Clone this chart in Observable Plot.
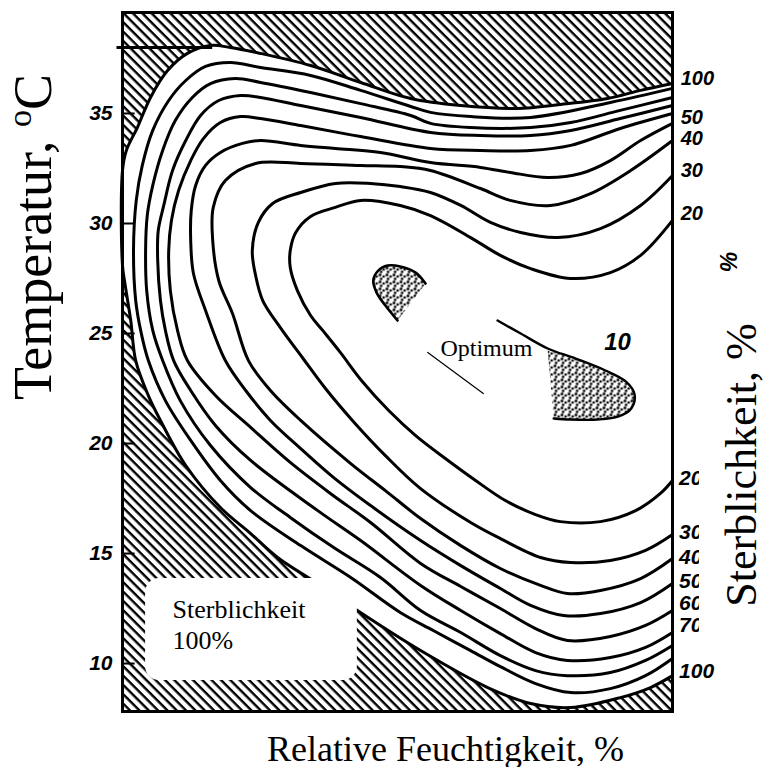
<!DOCTYPE html>
<html><head><meta charset="utf-8">
<script src="https://cdn.jsdelivr.net/npm/d3@7"></script>
<script src="https://cdn.jsdelivr.net/npm/@observablehq/plot@0.6"></script>
<style>body{margin:0;background:#fff}</style>
</head><body><div id="chart"></div>
<script>
// x = relative humidity (0..100 of the frame), y = temperature °C
const c100 = [[100,36.36],[94.2,36.05],[88.2,35.68],[79.6,35.41],[71.8,35.23],[61.5,35.36],[52.4,35.68],[43.3,36.41],[34.2,37.18],[25.1,37.73],[19.6,38.0],[16.0,38.09],[11.8,37.73],[8.2,36.95],[5.1,35.73],[2.7,34.36],[0.7,33.32],[0,32.41],[0,28.09],[0.5,27.18],[1.5,25.59],[2.4,23.77],[4.7,22.18],[6.9,21.05],[11.5,19.0],[17.8,17.09],[23.3,15.91],[28.2,14.82],[36.0,13.55],[42.7,12.41],[54.2,10.59],[66.4,8.91],[74.2,8.18],[81.5,8.0],[90.5,8.45],[96.0,8.91],[100,9.45]];
const c90 = [[100,36.14],[88.7,35.5],[74.2,34.82],[63.3,34.86],[56.0,35.05],[52.4,35.32],[43.3,36.05],[34.2,36.73],[25.1,37.09],[19.6,37.32],[15.1,37.14],[11.5,36.5],[8.4,35.59],[5.5,34.23],[3.6,32.64],[2.5,31.05],[2.0,28.77],[2.4,26.5],[3.3,25.14],[4.7,23.77],[7.8,21.95],[12.4,20.14],[17.8,18.32],[23.3,16.95],[32.4,15.36],[41.5,13.91],[50.5,12.32],[56.5,11.5],[63.3,10.59],[68.7,9.86],[75.1,9.09],[81.5,8.68],[88.7,8.86],[95.1,9.45],[100,10.23]];
const c80 = [[100,35.73],[90.5,35.14],[81.5,34.59],[74.2,34.36],[63.3,34.36],[56.0,34.55],[52.4,34.91],[43.3,35.45],[34.2,35.95],[25.1,36.41],[20.5,36.59],[16.0,36.36],[12.7,35.73],[9.6,34.68],[7.3,33.32],[5.5,31.73],[4.5,30.36],[4.2,28.77],[4.4,26.95],[5.5,25.14],[7.3,23.77],[10.5,21.95],[16.0,19.91],[23.3,18.0],[30.5,16.64],[38.4,15.27],[46.9,13.91],[54.2,12.41],[61.5,11.41],[68.7,10.36],[75.1,9.68],[80.9,9.45],[88.7,9.59],[95.1,10.14],[100,10.82]];
const c70 = [[100,35.36],[90.5,34.77],[81.5,34.23],[74.2,34.0],[65.1,34.0],[56.0,34.14],[43.3,34.82],[32.4,35.36],[25.1,35.73],[21.5,35.82],[17.5,35.59],[14.2,34.91],[11.5,33.77],[9.1,32.41],[7.5,30.82],[6.5,29.68],[6.4,28.32],[6.9,26.5],[7.8,25.14],[9.3,23.77],[12.4,22.41],[16.9,20.82],[23.3,19.23],[35.5,16.95],[43.3,15.59],[54.2,13.55],[61.5,12.41],[68.7,11.36],[75.1,10.5],[80.9,10.14],[88.7,10.27],[95.1,10.73],[100,11.41]];
const c60 = [[100,35.0],[90.5,34.32],[81.5,33.55],[74.2,33.32],[65.1,33.32],[56.0,33.41],[43.3,33.95],[32.4,34.45],[25.1,34.77],[21.5,34.86],[17.8,34.59],[14.7,33.86],[12.4,32.86],[10.2,31.5],[8.9,30.14],[8.4,28.77],[8.7,26.95],[10.0,25.14],[11.8,23.77],[16.9,22.18],[23.3,20.73],[30.5,19.14],[37.8,17.73],[45.1,16.41],[54.2,14.55],[61.5,13.5],[68.7,12.5],[75.1,11.59],[80.9,11.05],[88.7,11.23],[95.1,11.73],[100,12.41]];
const c50 = [[100,34.55],[94.2,33.77],[88.7,32.86],[83.3,32.27],[77.3,32.09],[70.5,32.32],[65.1,32.55],[56.0,32.77],[46.9,33.23],[38.7,33.41],[32.4,33.55],[25.1,33.77],[21.8,33.64],[17.8,33.23],[15.1,32.64],[13.3,31.73],[12.5,30.59],[12.4,29.23],[12.9,27.73],[15.1,26.05],[18.7,23.77],[22.4,22.41],[26.9,21.05],[32.4,19.77],[38.4,18.45],[45.1,17.18],[54.2,15.59],[61.5,14.45],[68.7,13.41],[74.2,12.64],[80.2,12.18],[86.9,12.27],[94.2,12.77],[100,13.64]];
const c40 = [[100,33.77],[92.4,32.41],[85.1,31.36],[77.8,30.82],[70.5,31.05],[65.1,31.59],[56.0,32.41],[50.5,32.59],[43.3,32.64],[32.4,32.73],[24.2,32.73],[18.7,31.95],[16.5,30.73],[16.4,29.23],[17.5,27.41],[20.0,25.91],[22.9,23.77],[26.9,22.41],[32.4,21.05],[41.5,19.09],[47.8,17.86],[54.2,16.59],[61.5,15.36],[68.7,14.32],[76.0,13.55],[80.9,13.18],[86.9,13.32],[94.2,13.86],[100,14.77]];
const c30 = [[100,32.18],[94.2,30.82],[86.9,29.77],[79.1,29.36],[72.4,29.59],[66.9,30.05],[61.5,30.82],[56.0,31.41],[50.5,31.68],[45.1,31.82],[38.7,31.82],[32.4,31.41],[27.3,30.91],[24.7,30.05],[23.6,28.77],[24.2,27.64],[25.5,26.5],[28.7,25.27],[32.7,23.91],[36.9,22.5],[41.8,21.05],[47.8,19.45],[54.2,17.95],[63.3,16.41],[68.7,15.68],[76.0,14.82],[81.5,14.59],[88.7,14.68],[95.1,15.14],[100,15.86]];
const c20 = [[100,30.14],[94.2,28.55],[88.7,27.77],[81.5,27.5],[74.2,27.95],[68.7,28.55],[63.3,29.36],[56.0,30.36],[50.5,30.82],[43.3,31.05],[38.7,30.73],[34.2,30.32],[31.5,29.59],[30.5,28.77],[30.5,28.0],[31.8,26.95],[34.2,25.82],[36.4,25.14],[39.6,24.14],[43.6,22.82],[48.4,21.5],[53.3,20.36],[58.7,19.32],[64.2,18.32],[69.6,17.41],[75.1,16.77],[79.6,16.45],[86.9,16.45],[93.3,16.95],[97.8,17.73],[100,18.32]];

const levels = [100, 90, 80, 70, 60, 50, 40, 30, 20];
const contours = [c100, c90, c80, c70, c60, c50, c40, c30, c20];

// optimum (10 %) patches
const patch1 = [[55.1,27.27],[53.3,27.77],[50.5,28.05],[48.2,28.09],[46.5,27.86],[45.6,27.41],[46.2,26.86],[47.8,26.27],[50.0,25.59]];
const patch2Edge = [[68.2,25.59],[72.4,25.0],[77.3,24.32],[82.4,23.86],[87.8,23.32],[91.5,22.82],[93.1,22.23],[92.5,21.59],[90.2,21.23],[86.4,21.09],[81.5,21.09],[78.4,21.14]];
const patch2Fill = [[77.3,24.23],[82.4,23.86],[87.8,23.32],[91.5,22.82],[93.1,22.23],[92.5,21.59],[90.2,21.23],[86.4,21.09],[81.5,21.09],[78.4,21.14]];
const pointer = [[55.5,24.14],[65.6,22.27]];

const yTicks = [10, 15, 20, 25, 30, 35];
const markerTemp = [38];
const upperLabels = ["100", "50", "40", "30", "20"];
const upperLabelTemp = [36.59, 34.82, 33.86, 32.41, 30.45];
const lowerLabels = ["20", "30", "40", "50", "60", "70", "100"];
const lowerLabelTemp = [18.41, 15.95, 14.82, 13.73, 12.73, 11.73, 9.64];
const boxLines = ["Sterblichkeit", "100%"];
const boxLineTemp = [12.05, 10.68];
const box = [{x1: 4.2, x2: 42.7, y1: 9.23, y2: 13.86}];
const cover = [{x1: 104.9, x2: 130, y1: 10.2, y2: 26.5}];

const rows = levels.flatMap((lv, i) => contours[i].map(([h, t]) => ({lv, h, t})));
const pt = {x: d => d[0], y: d => d[1]};
const upperRows = upperLabels.map((s, i) => ({s, h: 101.5, t: upperLabelTemp[i]}));
const lowerRows = lowerLabels.map((s, i) => ({s, h: 101.2, t: lowerLabelTemp[i]}));
const boxRows = boxLines.map((s, i) => ({s, h: 9.1, t: boxLineTemp[i]}));
const numFont = {fontFamily: "Liberation Sans", fontWeight: "bold", fontStyle: "italic"};

const svg = Plot.plot({
  width: 764, height: 767,
  marginLeft: 122, marginRight: 92, marginTop: 12, marginBottom: 56,
  x: {domain: [0, 100], axis: null},
  y: {domain: [7.82, 39.59]},
  style: {background: "white"},
  marks: [
    Plot.frame({fill: "url(#hatch)", stroke: "none"}),
    Plot.line(c100, {...pt, fill: "white", stroke: "none", curve: "catmull-rom"}),
    Plot.line(rows, {x: "h", y: "t", z: "lv", stroke: "black", strokeWidth: 3, curve: "catmull-rom"}),
    Plot.line(patch1, {...pt, fill: "url(#dots)", stroke: "none", curve: "catmull-rom"}),
    Plot.line(patch2Fill, {...pt, fill: "url(#dots)", stroke: "none", curve: "catmull-rom"}),
    Plot.line(patch1, {...pt, stroke: "black", strokeWidth: 2.6, curve: "catmull-rom"}),
    Plot.line(patch2Edge, {...pt, stroke: "black", strokeWidth: 2.4, curve: "catmull-rom"}),
    Plot.line(pointer, {...pt, stroke: "black", strokeWidth: 1.2}),
    Plot.rect(box, {x1: "x1", x2: "x2", y1: "y1", y2: "y2", fill: "white", rx: 14}),
    Plot.text(boxRows, {x: "h", y: "t", text: "s", textAnchor: "start", lineAnchor: "bottom", fontSize: 26, fontFamily: "Liberation Serif"}),
    Plot.text(["Optimum"], {x: 57.8, y: 24.0, text: d => d, textAnchor: "start", lineAnchor: "bottom", fontSize: 24, fontFamily: "Liberation Serif"}),
    Plot.text(["10"], {x: 90.0, y: 24.59, text: d => d, fontSize: 24, ...numFont}),
    Plot.ruleY(yTicks, {x1: 0, x2: 2.3, stroke: "black", strokeWidth: 2}),
    Plot.ruleY(markerTemp, {x1: -1, x2: 16.4, stroke: "black", strokeWidth: 3}),
    Plot.frame({stroke: "black", strokeWidth: 3}),
    Plot.axisY(yTicks, {tickSize: 0, tickPadding: 10, label: null, fontSize: 21, ...numFont}),
    Plot.text(lowerRows, {x: "h", y: "t", text: "s", textAnchor: "start", fontSize: 21, ...numFont}),
    Plot.rect(cover, {x1: "x1", x2: "x2", y1: "y1", y2: "y2", fill: "white"}),
    Plot.text(upperRows, {x: "h", y: "t", text: "s", textAnchor: "start", fontSize: 20, ...numFont}),
    Plot.text(["%"], {x: 110, y: 28.27, text: d => d, rotate: 90, fontSize: 23, ...numFont}),
    Plot.text(["Relative Feuchtigkeit, %"], {frameAnchor: "bottom", dx: 48, dy: 49, lineAnchor: "bottom", fontSize: 36, fontFamily: "Liberation Serif"}),
    Plot.text(["Temperatur, oC"], {frameAnchor: "left", textAnchor: "middle", dx: -72, dy: -125, rotate: -90, lineAnchor: "bottom", fontSize: 54, fontFamily: "Liberation Serif"}),
    Plot.text(["Sterblichkeit, %"], {frameAnchor: "right", textAnchor: "middle", dx: 83, dy: 103, rotate: -90, lineAnchor: "bottom", fontSize: 44, fontFamily: "Liberation Serif"})
  ]
});

const s = d3.select(svg);
s.insert("defs", ":first-child").html(
  '<pattern id="hatch" patternUnits="userSpaceOnUse" width="6.6" height="6.6" patternTransform="rotate(45)">' +
  '<rect x="0" y="0" width="6.6" height="2.4" fill="black"/></pattern>' +
  '<pattern id="dots" patternUnits="userSpaceOnUse" width="7" height="7">' +
  '<circle cx="1.5" cy="1.5" r="1.4" fill="black"/><circle cx="5.2" cy="3.0" r="1.3" fill="black"/>' +
  '<circle cx="2.6" cy="5.4" r="1.3" fill="black"/></pattern>'
);
s.selectAll("text").filter(function() { return this.textContent === "Temperatur, oC"; }).each(function() {
  const t = d3.select(this);
  t.text(null);
  t.append("tspan").text("Temperatur, ");
  t.append("tspan").attr("dy", "-20").attr("font-size", "34").text("o");
  t.append("tspan").attr("dy", "20").text("C");
});
document.getElementById("chart").appendChild(svg);
</script></body></html>
